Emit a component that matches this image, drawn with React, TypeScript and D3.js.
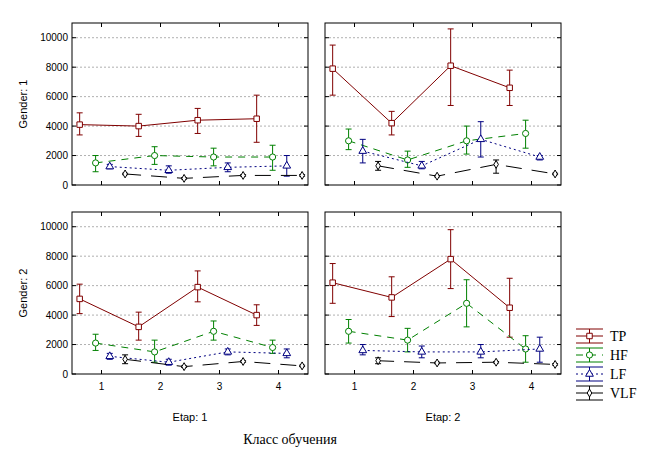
import * as d3 from 'd3';

// categories and series
const etaps = [1, 2, 3, 4];
const seriesNames = ['TP', 'HF', 'LF', 'VLF'];
// per series: [mean, upper, lower] for each class 1..4
const tpG1E1 = [[4100, 4900, 3400], [4000, 4800, 3300], [4400, 5200, 3500], [4500, 6100, 2900]];
const hfG1E1 = [[1500, 2000, 900], [2000, 2600, 1400], [1900, 2500, 1300], [1900, 2700, 1000]];
const lfG1E1 = [[1250, 1400, 1100], [1000, 1300, 800], [1200, 1500, 900], [1300, 2000, 600]];
const vlfG1E1 = [[750, 800, 700], [450, 500, 400], [650, 700, 600], [650, 700, 600]];
const tpG1E2 = [[7900, 9500, 6100], [4200, 5000, 3400], [8100, 10600, 5400], [6600, 7800, 5400]];
const hfG1E2 = [[3000, 3800, 2400], [1700, 2300, 1200], [3000, 4000, 2100], [3500, 4400, 2500]];
const lfG1E2 = [[2300, 3100, 1500], [1300, 1600, 1100], [3100, 4300, 1900], [1900, 2000, 1700]];
const vlfG1E2 = [[1300, 1600, 1000], [600, 650, 550], [1400, 1700, 800], [750, 800, 700]];
const tpG2E1 = [[5100, 6100, 4100], [3200, 4200, 2300], [5900, 7000, 4900], [4000, 4700, 3300]];
const hfG2E1 = [[2100, 2700, 1600], [1500, 2300, 800], [2900, 3600, 2300], [1800, 2300, 1400]];
const lfG2E1 = [[1200, 1400, 1000], [800, 1000, 600], [1500, 1700, 1300], [1400, 1700, 1100]];
const vlfG2E1 = [[1000, 1300, 700], [500, 550, 450], [850, 900, 800], [550, 600, 500]];
const tpG2E2 = [[6200, 7500, 4800], [5200, 6600, 3900], [7800, 9800, 5800], [4500, 6500, 2500]];
const hfG2E2 = [[2900, 3700, 2100], [2300, 3100, 1500], [4800, 6400, 3200], [1700, 2600, 800]];
const lfG2E2 = [[1600, 2000, 1300], [1500, 1900, 1100], [1500, 2000, 1100], [1700, 2500, 800]];
const vlfG2E2 = [[900, 1100, 700], [750, 800, 700], [800, 850, 750], [650, 700, 600]];
const yTicks = [0, 2000, 4000, 6000, 8000, 10000];

const panels = [
  { gender: 1, etap: 1, series: [tpG1E1, hfG1E1, lfG1E1, vlfG1E1] },
  { gender: 1, etap: 2, series: [tpG1E2, hfG1E2, lfG1E2, vlfG1E2] },
  { gender: 2, etap: 1, series: [tpG2E1, hfG2E1, lfG2E1, vlfG2E1] },
  { gender: 2, etap: 2, series: [tpG2E2, hfG2E2, lfG2E2, vlfG2E2] },
];

const colors = ['#800000', '#008000', '#000080', '#000000'];
const dashes = ['none', '7,6', '2,3', '16,10'];
const offsets = [-0.37, -0.1, 0.14, 0.4];
const shapes = [d3.symbolSquare, d3.symbolCircle, d3.symbolTriangle, d3.symbolDiamond];
const sizes = [30, 30, 26, 18];

const pw = 236, ph = 162;
const lefts = [72, 325], tops = [23, 212];
const font = 'Arial, "Liberation Sans", sans-serif';
const serif = '"Times New Roman", "Liberation Serif", "DejaVu Serif", serif';

const Marker = ({ i, x, y }: { i: number; x: number; y: number }) => (
  <path d={d3.symbol(shapes[i], sizes[i])()!} transform={`translate(${x},${y})`}
    fill="white" stroke={colors[i]} strokeWidth={1} />
);

export default function App() {
  const x = d3.scaleLinear().domain([0.5, 4.5]).range([0, pw]);
  const y = d3.scaleLinear().domain([0, 11000]).range([ph, 0]);
  return (
    <svg width={650} height={459} style={{ position: 'absolute', left: 0, top: 0 }} fontFamily={font}>
      <rect width={650} height={459} fill="white" />
      {panels.map((p, pi) => {
        const ox = lefts[p.etap - 1], oy = tops[p.gender - 1];
        return (
          <g key={pi} transform={`translate(${ox},${oy})`}>
            {yTicks.slice(1).map(t => (
              <line key={t} x1={0} x2={pw} y1={y(t)} y2={y(t)} stroke="#b0b0b0" strokeDasharray="2,2" />
            ))}
            {p.series.map((s, si) => {
              const lg = d3.line<number[]>().x((_, k) => x(etaps[k] + offsets[si])).y(d => y(d[0]));
              return (
                <g key={si}>
                  <path d={lg(s)!} fill="none" stroke={colors[si]} strokeDasharray={dashes[si]} strokeWidth={1} />
                  {s.map((d, k) => {
                    const cx = x(etaps[k] + offsets[si]);
                    return (
                      <g key={k}>
                        <line x1={cx} x2={cx} y1={y(d[1])} y2={y(d[2])} stroke={colors[si]} />
                        <line x1={cx - 3} x2={cx + 3} y1={y(d[1])} y2={y(d[1])} stroke={colors[si]} />
                        <line x1={cx - 3} x2={cx + 3} y1={y(d[2])} y2={y(d[2])} stroke={colors[si]} />
                        <Marker i={si} x={cx} y={y(d[0])} />
                      </g>
                    );
                  })}
                </g>
              );
            })}
            <rect width={pw} height={ph} fill="none" stroke="black" />
            {etaps.map(e => (
              <g key={e}>
                <line x1={x(e)} x2={x(e)} y1={0} y2={4} stroke="black" />
                <line x1={x(e)} x2={x(e)} y1={ph} y2={ph - 4} stroke="black" />
                {p.gender === 2 && (
                  <text x={x(e)} y={ph + 16} fontSize={10} textAnchor="middle">{e}</text>
                )}
              </g>
            ))}
            {yTicks.map(t => (
              <g key={t}>
                <line x1={0} x2={4} y1={y(t)} y2={y(t)} stroke="black" />
                <line x1={pw} x2={pw - 4} y1={y(t)} y2={y(t)} stroke="black" />
                {p.etap === 1 && (
                  <text x={-4} y={y(t) + 3.5} fontSize={10} textAnchor="end">{t}</text>
                )}
              </g>
            ))}
            {p.etap === 1 && (
              <text transform={`translate(-45,${ph / 2}) rotate(-90)`} fontSize={11} textAnchor="middle">
                {`Gender: ${p.gender}`}
              </text>
            )}
          </g>
        );
      })}
      <text x={190} y={421} fontSize={11} textAnchor="middle">Etap: 1</text>
      <text x={443} y={421} fontSize={11} textAnchor="middle">Etap: 2</text>
      <text x={290} y={444} fontSize={14} textAnchor="middle" fontFamily={serif}>Класс обучения</text>
      {seriesNames.map((n, i) => {
        const ly = 336 + i * 19;
        return (
          <g key={n}>
            <line x1={576} x2={603} y1={ly - 7} y2={ly - 7} stroke={colors[i]} />
            <line x1={576} x2={603} y1={ly} y2={ly} stroke={colors[i]} strokeDasharray={i === 3 ? 'none' : dashes[i]} />
            <line x1={576} x2={603} y1={ly + 7} y2={ly + 7} stroke={colors[i]} />
            <line x1={589.5} x2={589.5} y1={ly - 7} y2={ly + 7} stroke={colors[i]} />
            <Marker i={i} x={589.5} y={ly} />
            <text x={610} y={ly + 5} fontSize={14} fontFamily={serif}>{n}</text>
          </g>
        );
      })}
    </svg>
  );
}
